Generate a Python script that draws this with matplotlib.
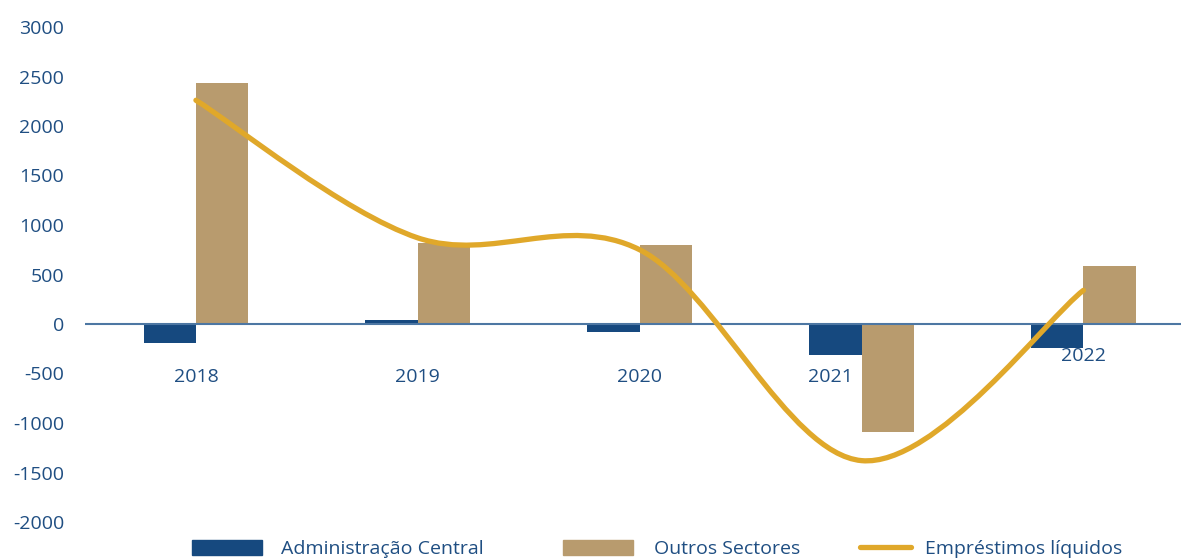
import matplotlib
matplotlib.use("Agg")
import matplotlib.pyplot as plt
import numpy as np
from matplotlib.path import Path
from matplotlib.patches import PathPatch, Patch
from matplotlib.lines import Line2D

plt.rcParams['font.family'] = ['Open Sans', 'DejaVu Sans']
plt.rcParams['axes.unicode_minus'] = False

# dados
anos = ['2018', '2019', '2020', '2021', '2022']
admin_central = [-195, 45, -85, -310, -246]
outros_sectores = [2430, 821, 801, -1095, 585]
emprestimos = [2260, 870, 750, -1380, 340]

# cores
azul = '#16497f'
bege = '#b89b6e'
dourado = '#e0a82a'
texto = '#1f4e82'


def curva_suave(ax, xs, ys, **kw):
    # curva tipo Catmull-Rom feita com segmentos Bezier
    p = np.column_stack([xs, ys]).astype(float)
    n = len(p)
    verts = [p[0]]
    codes = [Path.MOVETO]
    for i in range(n - 1):
        p0 = p[i - 1] if i > 0 else p[i]
        p3 = p[i + 2] if i + 2 < n else p[i + 1]
        c1 = p[i] + (p[i + 1] - p0) / 6
        c2 = p[i + 1] - (p3 - p[i]) / 6
        verts += [c1, c2, p[i + 1]]
        codes += [Path.CURVE4] * 3
    ax.add_patch(PathPatch(Path(verts, codes), fill=False, **kw))


fig = plt.figure(figsize=(11.81, 5.6), dpi=100)
ax = fig.add_axes([85 / 1181, 38 / 560, 1 - 85 / 1181, 495 / 560])

x = np.arange(len(anos))
w = 0.236
ax.bar(x - w / 2, admin_central, w, color=azul, zorder=2)
ax.bar(x + w / 2, outros_sectores, w, color=bege, zorder=2)
ax.axhline(0, color='#4d77a3', lw=1.5, zorder=3)
curva_suave(ax, x, emprestimos, edgecolor=dourado, lw=3.8,
            capstyle='round', joinstyle='round', zorder=4)

ax.set_xlim(-0.5, 4.44)
ax.set_ylim(-2000, 3000)
ax.set_yticks(np.arange(-2000, 3001, 500))
ax.tick_params(axis='y', length=0, pad=15, labelsize=14, labelcolor=texto)
ax.set_xticks([])
for s in ax.spines.values():
    s.set_visible(False)

# rótulos das categorias
dx = [0, 0, 0, -0.14, 0]
dy = [-540, -540, -540, -540, -320]
for i, a in enumerate(anos):
    ax.text(i + dx[i], dy[i], a, ha='center', va='center',
            fontsize=14, color=texto, zorder=5)

# legenda: uma entrada de cada vez para acertar as posições
entradas = [
    (Patch(color=azul), 'Administração Central', 192, 3.6, 1.0),
    (Patch(color=bege), 'Outros Sectores', 563, 3.6, 1.1),
    (Line2D([], [], color=dourado, lw=3.8, solid_capstyle='round'),
     'Empréstimos líquidos', 860, 2.6, 0.75),
]
for h, lab, px, hl, tp in entradas:
    fig.legend([h], [lab], loc='center left',
               bbox_to_anchor=(px / 1181, 1 - 549 / 560), frameon=False,
               fontsize=14, labelcolor=texto, handlelength=hl, handleheight=0.8,
               handletextpad=tp, borderpad=0, borderaxespad=0)

fig.savefig('out.png', dpi=100)
